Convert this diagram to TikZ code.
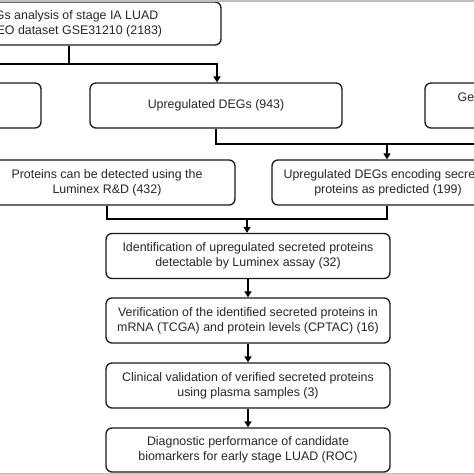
\documentclass[tikz,border=0pt]{standalone}
\usepackage{fontspec}
\setmainfont{Liberation Sans}
\usetikzlibrary{arrows.meta}
\begin{document}
\begin{tikzpicture}[x=1pt,y=-1pt,
  box/.style={draw=black!90, line width=1.3pt, rounded corners=6pt, align=center,
    font=\fontsize{12.4}{15}\selectfont, text=black!85, inner sep=0pt},
  lbl/.style={font=\fontsize{12.4}{15}\selectfont, text=black!85, inner sep=0pt},
  conn/.style={line width=1.8pt, black},
  arr/.style={conn, -{Triangle[width=7pt,length=6pt]}}]
\useasboundingbox (0,0) rectangle (474,474);
\begin{scope}
\clip (0,0) rectangle (474,474);
\fill[white] (0,0) rectangle (474,474);
% boxes
\node[box, minimum width=306pt, minimum height=43pt] (top) at (68,23.5)
  {DEGs analysis of stage IA LUAD\\in GEO dataset GSE31210 (2183)};
\node[box, minimum width=242pt, minimum height=45pt] (down) at (-80,105.5) {};
\node[box, minimum width=252pt, minimum height=45pt] (mid) at (216,105.5) {Upregulated DEGs (943)};
\node[box, minimum width=175pt, minimum height=45pt] (gen) at (512.5,105.5) {};
\node[lbl, anchor=west] (genlbl) at (457.5,97.5) {Ge};
\node[box, minimum width=256pt, minimum height=45pt] (r3l) at (107,182.5)
  {Proteins can be detected using the\\Luminex R\&D (432)};
\node[box, minimum width=232pt, minimum height=45pt] (r3r) at (388,182.5)
  {Upregulated DEGs encoding secreted\\proteins as predicted (199)};
\node[box, minimum width=284pt, minimum height=45pt] (r4) at (248,256)
  {Identification of upregulated secreted proteins\\detectable by Luminex assay (32)};
\node[box, minimum width=284pt, minimum height=45pt] (r5) at (248,320.5)
  {Verification of the identified secreted proteins in\\mRNA (TCGA) and protein levels (CPTAC) (16)};
\node[box, minimum width=284pt, minimum height=45pt] (r6) at (248,385.5)
  {Clinical validation of verified secreted proteins\\using plasma samples (3)};
\node[box, minimum width=284pt, minimum height=44pt] (r7) at (248,450)
  {Diagnostic performance of candidate\\biomarkers for early stage LUAD (ROC)};
% connectors
\coordinate (j1) at (69,64);
\coordinate (j1L) at (-5,64);
\coordinate (j1R) at (217,64);
\draw[conn] (top.south -| j1) -- (j1);
\draw[arr] (j1L) -- (j1R) -- (j1R |- mid.north);
\coordinate (j2) at (216,144);
\coordinate (j2R) at (480,144);
\coordinate (j2a) at (387,144);
\draw[conn] (mid.south) -- (j2) -- (j2R);
\draw[arr] (j2a) -- (j2a |- r3r.north);
\coordinate (j3L) at (107,219);
\coordinate (j3R) at (387,219);
\coordinate (j3) at (247,219);
\draw[conn] (r3l.south -| j3L) -- (j3L) -- (j3R) -- (r3r.south -| j3R);
\draw[arr] (j3) -- (j3 |- r4.north);
\draw[arr] (r4.south) -- (r5.north);
\draw[arr] (r5.south) -- (r6.north);
\draw[arr] (r6.south) -- (r7.north);
% scan edges
\fill[black!25] (0,0) rectangle (474,1.8);
\fill[black!25] (0,472.5) rectangle (474,474);
\end{scope}
\end{tikzpicture}
\end{document}
